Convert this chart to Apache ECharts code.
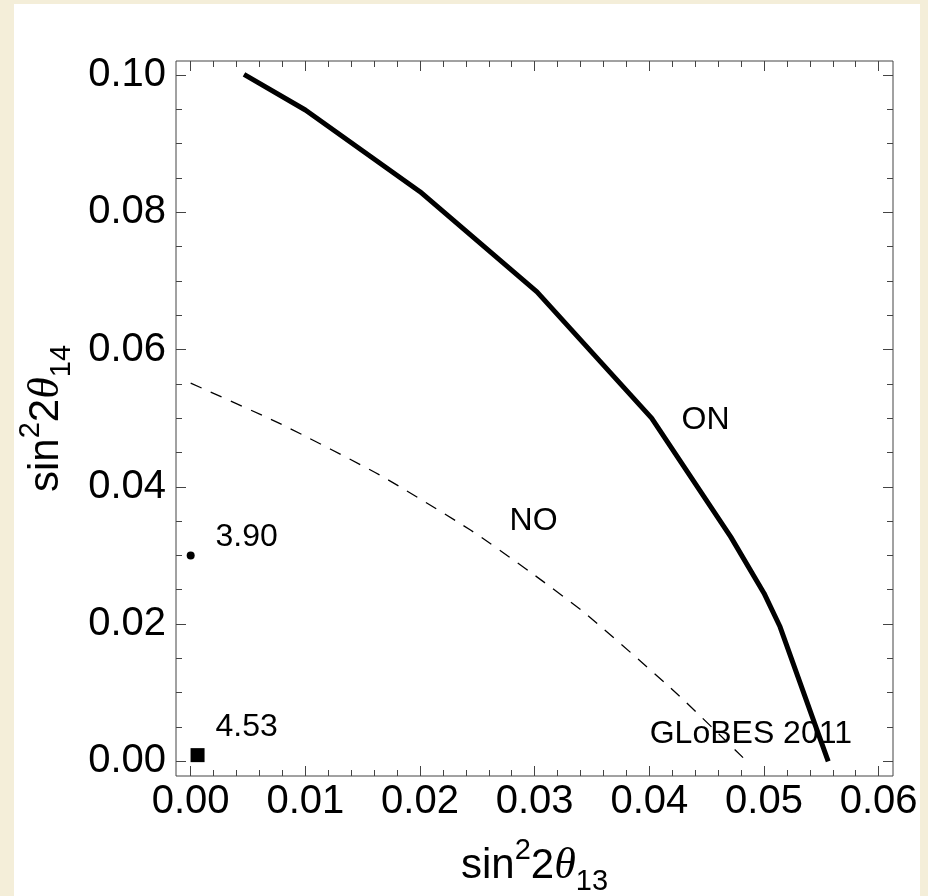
<!DOCTYPE html>
<html>
<head>
<meta charset="utf-8">
<script src="https://cdn.jsdelivr.net/npm/echarts@6/dist/echarts.min.js"></script>
<style>
body { margin: 0; background: #f4eed9; }
#panel { position: absolute; left: 14px; top: 4px; width: 906px; height: 892px; background: #fff; }
#chart { position: absolute; left: 0; top: 0; width: 928px; height: 896px; }
</style>
</head>
<body>
<div id="panel"></div>
<div id="chart"></div>
<script>
// curves
var onCurve = [[0.00465, 0.1001], [0.0100, 0.0949], [0.0200, 0.0830], [0.0302, 0.0684],
	[0.0402, 0.0500], [0.0471, 0.0327], [0.0500, 0.0245], [0.0514, 0.0196], [0.0556, 0.0]];
var noCurve = [[0.0, 0.0551], [0.0078, 0.0492], [0.0165, 0.0417], [0.0244, 0.0337],
	[0.0296, 0.0276], [0.0346, 0.0213], [0.0425, 0.0097], [0.0485, 0.0]];
var dotPoint = [[0.0, 0.030]];
var squarePoint = [[0.0006, 0.0009]];

// text annotations
var noteText = ['ON', 'NO', '3.90', '4.53', 'GLoBES 2011'];
var noteX = [0.0449, 0.0299, 0.00488, 0.00488, 0.04885];
var noteY = [0.0497, 0.0350, 0.0327, 0.0050, 0.0040];

// ticks
var xMajor = [0, 0.01, 0.02, 0.03, 0.04, 0.05, 0.06];
var xMinor = [0.002, 0.004, 0.006, 0.008, 0.012, 0.014, 0.016, 0.018, 0.022, 0.024, 0.026, 0.028,
	0.032, 0.034, 0.036, 0.038, 0.042, 0.044, 0.046, 0.048, 0.052, 0.054, 0.056, 0.058];
var yMajor = [0, 0.02, 0.04, 0.06, 0.08, 0.10];
var yMinor = [0.005, 0.01, 0.015, 0.025, 0.03, 0.035, 0.045, 0.05, 0.055, 0.065, 0.07, 0.075,
	0.085, 0.09, 0.095];

var xMin = -0.00128, xMax = 0.06125;
var yMin = -0.00214, yMax = 0.10204;

var font = 'Liberation Sans';
var tickColor = '#444';

var titleStyle = {
	fontSize: 42,
	fontFamily: font,
	color: '#000',
	lineHeight: 60,
	rich: {
		sup: { fontSize: 29, fontFamily: font, color: '#000', verticalAlign: 'top', lineHeight: 60 },
		it: { fontSize: 44, fontFamily: 'Liberation Serif', fontStyle: 'italic', color: '#000', lineHeight: 60 },
		sub: { fontSize: 29, fontFamily: font, color: '#000', verticalAlign: 'bottom', lineHeight: 60 }
	}
};

function valueAxis(pos, min, max, ticks, len, labels) {
	return {
		type: 'value',
		position: pos,
		min: min,
		max: max,
		axisLine: { show: false, onZero: false },
		splitLine: { show: false },
		axisTick: {
			inside: true,
			length: len,
			customValues: ticks,
			lineStyle: { color: tickColor, width: 1 }
		},
		axisLabel: labels ? {
			customValues: ticks,
			formatter: function(v) { return v.toFixed(2); },
			fontSize: 40,
			fontFamily: font,
			color: '#000',
			margin: 6
		} : { show: false }
	};
}

var xAxes = [
	valueAxis('bottom', xMin, xMax, xMajor, 10, true),
	valueAxis('bottom', xMin, xMax, xMinor, 6, false),
	valueAxis('top', xMin, xMax, xMajor, 10, false),
	valueAxis('top', xMin, xMax, xMinor, 6, false)
];
xAxes[0].name = 'sin{sup|2}2{it|θ}{sub|13}';
xAxes[0].nameLocation = 'middle';
xAxes[0].nameGap = 60;
xAxes[0].nameTextStyle = titleStyle;

var yAxes = [
	valueAxis('left', yMin, yMax, yMajor, 10, true),
	valueAxis('left', yMin, yMax, yMinor, 6, false),
	valueAxis('right', yMin, yMax, yMajor, 10, false),
	valueAxis('right', yMin, yMax, yMinor, 6, false)
];
yAxes[0].axisLabel.margin = 10;
yAxes[0].name = 'sin{sup|2}2{it|θ}{sub|14}';
yAxes[0].nameLocation = 'middle';
yAxes[0].nameRotate = 90;
yAxes[0].nameGap = 100;
yAxes[0].nameTextStyle = titleStyle;

var notes = noteText.map(function(t, i) {
	return { name: t, value: [noteX[i], noteY[i]] };
});

var chart = echarts.init(document.getElementById('chart'));
chart.setOption({
	backgroundColor: 'transparent',
	animation: false,
	grid: {
		left: 176, top: 61, right: 35, bottom: 120,
		outerBoundsMode: 'none',
		containLabel: false,
		show: true,
		borderColor: tickColor,
		borderWidth: 1,
		backgroundColor: 'transparent'
	},
	xAxis: xAxes,
	yAxis: yAxes,
	series: [{
		name: 'ON',
		type: 'line',
		data: onCurve,
		showSymbol: false,
		lineStyle: { color: '#000', width: 5 }
	}, {
		name: 'NO',
		type: 'line',
		data: noCurve,
		showSymbol: false,
		smooth: 0.2,
		lineStyle: { color: '#000', width: 1.3, type: [12, 10] }
	}, {
		name: 'dot',
		type: 'scatter',
		data: dotPoint,
		symbol: 'circle',
		symbolSize: 8,
		itemStyle: { color: '#000', opacity: 1 }
	}, {
		name: 'square',
		type: 'scatter',
		data: squarePoint,
		symbol: 'rect',
		symbolSize: 14,
		itemStyle: { color: '#000', opacity: 1 }
	}, {
		name: 'notes',
		type: 'scatter',
		data: notes,
		symbolSize: 0,
		itemStyle: { opacity: 1 },
		label: {
			show: true,
			position: 'inside',
			formatter: '{b}',
			fontSize: 32,
			fontFamily: font,
			color: '#000'
		}
	}]
});
</script>
</body>
</html>
